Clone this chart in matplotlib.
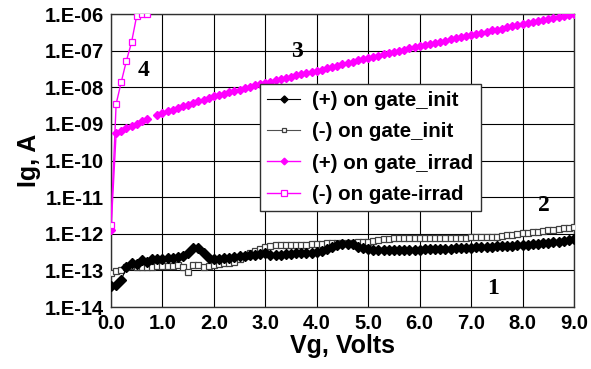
import numpy as np
import matplotlib
matplotlib.use("Agg")
import matplotlib.pyplot as plt
from matplotlib.ticker import FixedLocator, FuncFormatter, NullLocator

# ---------------------------------------------------------------
# Data
# ---------------------------------------------------------------
vg_init = [round(0.1 * i, 1) for i in range(91)]

ig_pos_init = [
    3.7e-14, 4.0e-14, 5.5e-14, 1.2e-13, 1.6e-13, 1.5e-13, 1.9e-13, 1.7e-13, 2.0e-13, 2.1e-13,
    2.1e-13, 2.15e-13, 2.2e-13, 2.3e-13, 2.5e-13, 3.0e-13, 4.2e-13, 4.0e-13, 3.0e-13, 2.2e-13,
    2.1e-13, 2.1e-13, 2.15e-13, 2.2e-13, 2.3e-13, 2.4e-13, 2.5e-13, 2.6e-13, 2.7e-13, 2.8e-13,
    2.9e-13, 2.65e-13, 2.7e-13, 2.7e-13, 2.8e-13, 2.8e-13, 2.9e-13, 2.9e-13, 3.0e-13, 3.0e-13,
    3.1e-13, 3.3e-13, 3.8e-13, 4.4e-13, 5.0e-13, 5.3e-13, 5.3e-13, 5.1e-13, 4.4e-13, 4.0e-13,
    3.8e-13, 3.7e-13, 3.6e-13, 3.6e-13, 3.6e-13, 3.55e-13, 3.6e-13, 3.6e-13, 3.65e-13, 3.7e-13,
    3.7e-13, 3.75e-13, 3.8e-13, 3.8e-13, 3.85e-13, 3.9e-13, 3.95e-13, 4.0e-13, 4.1e-13, 4.1e-13,
    4.2e-13, 4.25e-13, 4.3e-13, 4.35e-13, 4.4e-13, 4.5e-13, 4.55e-13, 4.6e-13, 4.7e-13, 4.8e-13,
    4.9e-13, 5.0e-13, 5.15e-13, 5.3e-13, 5.45e-13, 5.6e-13, 5.8e-13, 6.0e-13, 6.3e-13, 6.6e-13,
    7.0e-13,
]

ig_neg_init = [
    8.5e-14, 9.6e-14, 1.0e-13, 1.2e-13, 1.3e-13, 1.25e-13, 1.2e-13, 1.2e-13, 1.25e-13, 1.3e-13,
    1.3e-13, 1.3e-13, 1.3e-13, 1.4e-13, 1.2e-13, 9.0e-14, 1.4e-13, 1.4e-13, 1.25e-13, 1.35e-13,
    1.4e-13, 1.45e-13, 1.6e-13, 1.6e-13, 1.7e-13, 2.0e-13, 2.5e-13, 2.9e-13, 3.4e-13, 3.9e-13,
    4.4e-13, 4.6e-13, 4.8e-13, 4.8e-13, 4.8e-13, 4.8e-13, 4.9e-13, 4.9e-13, 5.0e-13, 5.1e-13,
    5.3e-13, 5.4e-13, 5.5e-13, 5.5e-13, 5.6e-13, 5.6e-13, 5.6e-13, 5.7e-13, 5.8e-13, 6.0e-13,
    6.1e-13, 6.4e-13, 6.8e-13, 7.0e-13, 7.4e-13, 7.6e-13, 7.7e-13, 7.7e-13, 7.7e-13, 7.7e-13,
    7.7e-13, 7.7e-13, 7.7e-13, 7.7e-13, 7.7e-13, 7.7e-13, 7.8e-13, 7.8e-13, 7.9e-13, 7.9e-13,
    8.0e-13, 8.0e-13, 8.0e-13, 8.1e-13, 8.1e-13, 8.2e-13, 8.6e-13, 9.0e-13, 9.5e-13, 1.0e-12,
    1.05e-12, 1.08e-12, 1.1e-12, 1.15e-12, 1.2e-12, 1.25e-12, 1.3e-12, 1.35e-12, 1.4e-12, 1.45e-12,
    1.5e-12,
]

vg_pos_irrad_a = [0.0, 0.1, 0.2, 0.3, 0.4, 0.5, 0.6, 0.7]
ig_pos_irrad_a = [1.26e-12, 5.6e-10, 6.6e-10, 7.6e-10, 8.7e-10, 1.0e-9, 1.17e-9, 1.38e-9]

vg_pos_irrad_b = [round(0.9 + 0.1 * i, 1) for i in range(82)]
ig_pos_irrad_b = [
    1.78e-9, 2.0e-9, 2.2e-9, 2.45e-9, 2.7e-9, 3.0e-9, 3.3e-9, 3.7e-9, 4.1e-9, 4.6e-9,
    5.0e-9, 5.6e-9, 6.2e-9, 6.6e-9, 7.2e-9, 7.9e-9, 8.5e-9, 9.3e-9, 1.02e-8, 1.12e-8,
    1.2e-8, 1.32e-8, 1.41e-8, 1.55e-8, 1.66e-8, 1.78e-8, 1.95e-8, 2.1e-8, 2.24e-8, 2.4e-8,
    2.6e-8, 2.8e-8, 3.0e-8, 3.3e-8, 3.55e-8, 3.9e-8, 4.2e-8, 4.6e-8, 4.9e-8, 5.4e-8,
    5.75e-8, 6.3e-8, 6.8e-8, 7.2e-8, 7.9e-8, 8.5e-8, 9.1e-8, 9.8e-8, 1.05e-7, 1.15e-7,
    1.23e-7, 1.32e-7, 1.41e-7, 1.51e-7, 1.62e-7, 1.74e-7, 1.86e-7, 2.04e-7, 2.19e-7, 2.34e-7,
    2.5e-7, 2.7e-7, 2.9e-7, 3.1e-7, 3.3e-7, 3.55e-7, 3.7e-7, 4.0e-7, 4.3e-7, 4.6e-7,
    4.9e-7, 5.25e-7, 5.6e-7, 6.0e-7, 6.3e-7, 6.8e-7, 7.2e-7, 7.8e-7, 8.3e-7, 8.7e-7,
    9.3e-7, 1.0e-6,
]

vg_neg_irrad = [0.0, 0.1, 0.2, 0.3, 0.4, 0.5, 0.6, 0.7]
ig_neg_irrad = [1.7e-12, 3.5e-9, 1.4e-8, 5.3e-8, 1.7e-7, 9.0e-7, 1.0e-6, 1.0e-6]

curve_labels = ["1", "2", "3", "4"]
curve_label_pos = [(7.43, 3.3e-14), (8.42, 5.8e-12), (3.62, 9.3e-8), (0.64, 2.8e-8)]

x_ticks = [0, 1, 2, 3, 4, 5, 6, 7, 8, 9]
y_ticks = [1e-14, 1e-13, 1e-12, 1e-11, 1e-10, 1e-9, 1e-8, 1e-7, 1e-6]

MAGENTA = "#FF00FF"
SANS = ["Liberation Sans", "DejaVu Sans"]
SERIF = ["Liberation Serif", "DejaVu Serif"]

plt.rcParams["font.family"] = SANS
plt.rcParams["font.weight"] = "bold"

fig = plt.figure(figsize=(5.91, 3.69), dpi=100)
ax = fig.add_axes([0.1878, 0.168, 0.7834, 0.794])

ax.plot(vg_init, ig_pos_init, color="black", lw=0.8, marker="D", ms=4.8,
        mfc="black", mec="black", label="(+) on gate_init", zorder=4)
ax.plot(vg_init, ig_neg_init, color="#505050", lw=0.8, marker="s", ms=4.8,
        mfc="white", mec="#404040", mew=0.9, label="(-) on gate_init", zorder=3)
ax.plot(vg_pos_irrad_a, ig_pos_irrad_a, color=MAGENTA, lw=1.0, marker="D", ms=4.5,
        mfc=MAGENTA, mec=MAGENTA, label="(+) on gate_irrad", zorder=5)
ax.plot(vg_pos_irrad_b, ig_pos_irrad_b, color=MAGENTA, lw=1.0, marker="D", ms=4.5,
        mfc=MAGENTA, mec=MAGENTA, zorder=5)
ax.plot(vg_neg_irrad, ig_neg_irrad, color=MAGENTA, lw=1.0, marker="s", ms=5,
        mfc="white", mec=MAGENTA, mew=0.9, label="(-) on gate-irrad", zorder=6)

ax.set_yscale("log")
ax.set_xlim(0, 9)
ax.set_ylim(1e-14, 1e-6)
ax.xaxis.set_major_locator(FixedLocator(x_ticks))
ax.yaxis.set_major_locator(FixedLocator(y_ticks))
ax.yaxis.set_minor_locator(NullLocator())
ax.xaxis.set_major_formatter(FuncFormatter(lambda v, p: f"{v:.1f}"))
ax.yaxis.set_major_formatter(
    FuncFormatter(lambda v, p: f"1.E{int(round(np.log10(v))):03d}"))
ax.tick_params(axis="both", length=0, labelsize=14.5, pad=5)
for lab in ax.get_xticklabels() + ax.get_yticklabels():
    lab.set_fontweight("bold")

ax.grid(True, which="major", color="black", lw=0.8)
for sp in ax.spines.values():
    sp.set_color("#303030")
    sp.set_linewidth(1.0)

ax.set_xlabel("Vg, Volts", fontsize=18, fontweight="bold", labelpad=1)
ax.set_ylabel("Ig, A", fontsize=18, fontweight="bold", labelpad=3)

for txt, (xv, yv) in zip(curve_labels, curve_label_pos):
    ax.text(xv, yv, txt, family=SERIF, fontsize=17, fontweight="bold",
            ha="center", va="center", zorder=7)

leg = ax.legend(loc="upper left", bbox_to_anchor=(0.322, 0.762), fontsize=14.8,
                frameon=True, fancybox=False, edgecolor="#303030",
                handlelength=1.6, handletextpad=0.6, borderpad=0.35,
                borderaxespad=0, labelspacing=0.6, framealpha=1,
                markerscale=0.75)
leg.get_frame().set_linewidth(1.0)
for t in leg.get_texts():
    t.set_fontweight("bold")
leg.set_zorder(10)

fig.savefig("out.png", dpi=100)
